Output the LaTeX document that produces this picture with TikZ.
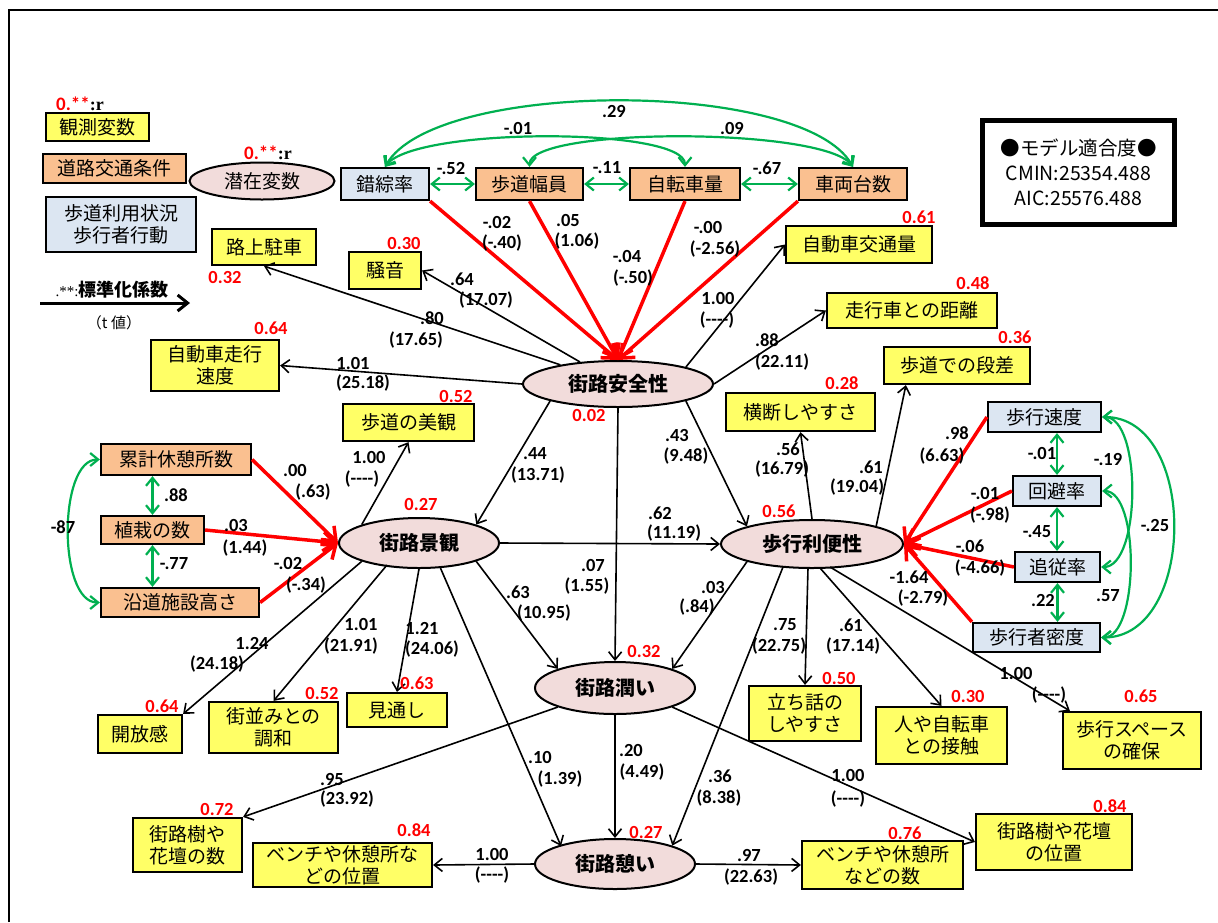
\documentclass[tikz,border=0pt]{standalone}
\usepackage{fontspec}
\setmainfont{Noto Sans CJK JP}
\newfontfamily\jpf{Noto Sans CJK JP}
\newfontfamily\numf{Carlito}
\newfontfamily\serf{Liberation Serif}
\usetikzlibrary{arrows.meta,calc,shapes.geometric}
\definecolor{yel}{HTML}{FFFF66}
\definecolor{org}{HTML}{FAC090}
\definecolor{blu}{HTML}{DCE6F2}
\definecolor{pnk}{HTML}{F2DCDB}
\definecolor{grn}{HTML}{00B050}
\definecolor{rd}{HTML}{FF0000}
\newcommand\bx[7]{\node[#1, minimum width={#4pt-#2pt}, minimum height={#5pt-#3pt}] (#6) at ({(#2+#4)/2},{(#3+#5)/2}) {#7};}
\newcommand\el[7]{\node[#1, minimum width=#5pt, minimum height=#6pt] (#2) at (#3,#4) {#7};}
\newcommand\lb[3]{\node[lab] (#1) at (#2) {#3};}
\newcommand\rv[3]{\node[rlab] (#1) at (#2) {#3};}
\begin{document}
\begin{tikzpicture}[x=1pt,y=-1pt,
 box/.style={draw, line width=2.2pt, inner sep=0pt, align=center, font=\jpf\fontsize{19}{22}\selectfont},
 obs/.style={box, fill=yel},
 road/.style={box, fill=org},
 walk/.style={box, fill=blu},
 lat/.style={ellipse, draw, line width=2pt, fill=pnk, inner sep=0pt, font=\jpf\bfseries\fontsize{20}{22}\selectfont},
 lab/.style={inner sep=0pt, font=\numf\bfseries\fontsize{18.5}{18.5}\selectfont},
 rlab/.style={lab, text=rd},
 arr/.style={line width=1.6pt, -{Straight Barb[length=8pt,width=13pt]}},
 redarr/.style={draw=rd, line width=3.5pt, -{Straight Barb[length=12pt,width=19pt]}},
 garr/.style={draw=grn, line width=2.2pt, {Straight Barb[length=8pt,width=13pt]}-{Straight Barb[length=8pt,width=13pt]}},
]
\fill[white] (0,0) rectangle (1218,922);
\path[use as bounding box] (0,0) rectangle (1218,922);
\draw[line width=2pt] (9,922) -- (9,10) -- (1218,10);

% legend
\node[inner sep=0pt] (lg1) at (80,104) {{\numf\bfseries\fontsize{19}{19}\selectfont\color{rd}0.**}{\serf\bfseries\fontsize{18}{18}\selectfont :r}};
\bx{obs}{46}{113}{149}{141}{lgobs}{観測変数}
\bx{road}{43}{154}{186}{183}{lgroad}{道路交通条件}
\bx{walk}{46}{197}{196}{252}{lgwalk}{歩道利用状況\\歩行者行動}
\node[inner sep=0pt] (lg2) at (268,153) {{\numf\bfseries\fontsize{19}{19}\selectfont\color{rd}0.**}{\serf\bfseries\fontsize{18}{18}\selectfont :r}};
\el{lat, font=\jpf\fontsize{19}{22}\selectfont}{lglat}{262}{181}{145}{37}{潜在変数}
\coordinate (la1) at (40,303);
\coordinate (la2) at (190,303);
\draw[line width=3pt, -{Straight Barb[length=10pt,width=16pt]}] (la1) -- (la2);
\node[inner sep=0pt] (lg3) at (112,290) {{\serf\fontsize{15}{15}\selectfont .**:}{\jpf\bfseries\fontsize{18}{18}\selectfont 標準化係数}};
\node[inner sep=0pt, font=\jpf\fontsize{15}{15}\selectfont] (lg4) at (114,323) {（t 値）};

% fit box
\node[draw, line width=5pt, minimum width=192pt, minimum height=104pt, align=center, inner sep=0pt, font=\jpf\fontsize{19.5}{25}\selectfont] (fit) at (1078.5,172.5) {●モデル適合度●\\CMIN:25354.488\\AIC:25576.488};

% top row
\bx{walk}{341}{168}{429}{200}{sakuso}{錯綜率}
\bx{road}{476}{168}{583}{200}{hodo}{歩道幅員}
\bx{road}{630}{168}{740}{200}{jiten}{自転車量}
\bx{road}{799}{168}{907}{200}{sharyo}{車両台数}

% observed
\bx{obs}{212}{229}{316}{265}{rojo}{路上駐車}
\bx{obs}{349}{252}{421}{289}{souon}{騒音}
\bx{obs}{786}{226}{932}{263}{kotsu}{自動車交通量}
\bx{obs}{827}{293}{997}{328}{kyori}{走行車との距離}
\bx{obs}{884}{347}{1030}{384}{dansa}{歩道での段差}
\bx{obs}{151}{340}{279}{391}{sokudo}{自動車走行\\速度}
\bx{obs}{343}{404}{474}{441}{bikan}{歩道の美観}
\bx{obs}{726}{393}{875}{431}{odan}{横断しやすさ}
\bx{obs}{98}{715}{182}{753}{kaiho}{開放感}
\bx{obs}{209}{702}{338}{753}{machi}{街並みとの\\調和}
\bx{obs}{347}{693}{447}{727}{mitoshi}{見通し}
\bx{obs}{749}{686}{861}{741}{tachi}{立ち話の\\しやすさ}
\bx{obs}{876}{707}{1007}{764}{sesshoku}{人や自転車\\との接触}
\bx{obs}{1063}{712}{1201}{769}{space}{歩行スペース\\の確保}
\bx{obs}{133}{818}{242}{872}{kadanA}{街路樹や\\花壇の数}
\bx{obs}{253}{843}{432}{887}{benchA}{ベンチや休憩所な\\どの位置}
\bx{obs}{802}{841}{963}{889}{benchB}{ベンチや休憩所\\などの数}
\bx{obs}{976}{814}{1132}{870}{kadanB}{街路樹や花壇\\の位置}

% left orange
\bx{road}{101}{444}{251}{475}{ruikei}{累計休憩所数}
\bx{road}{101}{516}{204}{544}{shoku}{植栽の数}
\bx{road}{101}{588}{259}{617}{endo}{沿道施設高さ}

% right blue
\bx{walk}{988}{402}{1101}{432}{hsoku}{歩行速度}
\bx{walk}{1013}{476}{1101}{506}{kaihi}{回避率}
\bx{walk}{1015}{552}{1100}{582}{tsui}{追従率}
\bx{walk}{973}{623}{1100}{652}{mitsu}{歩行者密度}

% latent
\el{lat}{S}{618}{384}{190}{46}{街路安全性}
\el{lat}{L}{419}{543}{160}{50}{街路景観}
\el{lat}{W}{812}{544}{182}{48}{歩行利便性}
\el{lat}{M}{615}{688}{160}{52}{街路潤い}
\el{lat}{R}{615}{864}{160}{50}{街路憩い}

% green correlations
\draw[garr] (sakuso.east) -- (hodo.west);
\draw[garr] (hodo.east) -- (jiten.west);
\draw[garr] (jiten.east) -- (sharyo.west);
\draw[garr] (sakuso.north) .. controls +(50,-88) and +(-50,-88) .. (sharyo.north);
\draw[garr] (sakuso.north) .. controls +(30,-40) and +(0,-40) .. (jiten.north);
\draw[garr] (hodo.north) .. controls +(0,-40) and +(-30,-40) .. (sharyo.north);
\draw[garr] (shoku.north |- ruikei.south) -- (shoku.north);
\draw[garr] (shoku.south) -- (shoku.south |- endo.north);
\draw[garr] (ruikei.west) .. controls +(-42,0) and +(-42,0) .. (endo.west);
\draw[garr] (kaihi.north |- hsoku.south) -- (kaihi.north);
\draw[garr] (kaihi.south) -- (kaihi.south |- tsui.north);
\draw[garr] (tsui.south) -- (tsui.south |- mitsu.north);
\draw[garr] (hsoku.east) .. controls +(40,0) and +(40,0) .. (tsui.east);
\draw[garr] (kaihi.east) .. controls +(38,0) and +(38,0) .. (mitsu.east);
\draw[garr] (hsoku.east) .. controls +(96,0) and +(96,0) .. (mitsu.east);

% red paths
\draw[redarr] (sakuso.south east) -- (S.north);
\draw[redarr] (hodo.south) -- (S.north);
\draw[redarr] (jiten.south) -- (S.north);
\draw[redarr] (sharyo.south west) -- (S.north);
\draw[redarr] (ruikei.east) -- (L.west);
\draw[redarr] (shoku.east) -- (L.west);
\draw[redarr] (endo.east) -- (L.west);
\draw[redarr] (hsoku.west) -- (W.east);
\draw[redarr] (kaihi.west) -- (W.east);
\draw[redarr] (tsui.west) -- (W.east);
\draw[redarr] (mitsu.north west) -- (W.east);

% black paths
\draw[arr] (S) -- (rojo.south);
\draw[arr] (S) -- (souon.east);
\draw[arr] (S.west) -- (sokudo.east);
\draw[arr] (S.north east) -- (kotsu.west);
\draw[arr] (S.east) -- (kyori.west);
\draw[arr] (S.south west) -- (L.north east);
\draw[arr] (S.south east) -- (W.north west);
\draw[arr] (S.south) -- (M.north);
\draw[arr] (L.north west) -- (bikan.south);
\draw[arr] (L.east) -- (W.west);
\draw[arr] (L.south west) -- (kaiho.north east);
\draw[arr] ($(L.center)+(-32,22)$) -- (machi.north);
\draw[arr] (L.south) -- (mitoshi.north);
\draw[arr] ($(L.center)+(21,24)$) -- ($(R.center)+(-54,-18)$);
\draw[arr] (L.south east) -- (M.north west);
\draw[arr] (W.north) -- (odan.south);
\draw[arr] ($(W.center)+(64,-17)$) -- ($(dansa.south west)+(23,0)$);
\draw[arr] (W.south west) -- (M.north east);
\draw[arr] ($(W.center)+(-29,23)$) -- (R.north east);
\draw[arr] ($(W.center)+(-4,24)$) -- (tachi.north);
\draw[arr] ($(W.center)+(8,24)$) -- (sesshoku.north);
\draw[arr] ($(W.center)+(18,23)$) -- ($(space.north west)+(8,0)$);
\draw[arr] (M.south west) -- (kadanA.north east);
\draw[arr] (M.south) -- (R.north);
\draw[arr] (M.south east) -- (kadanB.west);
\draw[arr] (R.west) -- (benchA.east);
\draw[arr] (R.east) -- (benchB.west);

% red values
\rv{v1}{225,277}{0.32}
\rv{v2}{404,243}{0.30}
\rv{v3}{919,217}{0.61}
\rv{v4}{973,283}{0.48}
\rv{v5}{1015,337}{0.36}
\rv{v6}{271,328}{0.64}
\rv{v7}{456,396}{0.52}
\rv{v8}{842,383}{0.28}
\rv{v9}{589,415}{0.02}
\rv{v10}{421,504}{0.27}
\rv{v11}{779,511}{0.56}
\rv{v12}{644,651}{0.32}
\rv{v13}{646,832}{0.27}
\rv{v14}{162,706}{0.64}
\rv{v15}{322,693}{0.52}
\rv{v16}{417,683}{0.63}
\rv{v17}{217,809}{0.72}
\rv{v18}{414,830}{0.84}
\rv{v19}{839,678}{0.50}
\rv{v20}{968,696}{0.30}
\rv{v21}{1141,696}{0.65}
\rv{v22}{905,833}{0.76}
\rv{v23}{1110,806}{0.84}

% coefficient labels
\lb{g1}{614,111}{.29}
\lb{g2}{518,128}{-.01}
\lb{g3}{732,128}{.09}
\lb{g4}{451,168}{-.52}
\lb{g5}{607,168}{-.11}
\lb{g6}{767,168}{-.67}
\lb{g7}{176,495}{.88}
\lb{g8}{174,564}{-.77}
\lb{g9}{63,527}{-87}
\lb{g10}{1042,453}{-.01}
\lb{g11}{1108,459}{-.19}
\lb{g12}{1037,532}{-.45}
\lb{g13}{1155,525}{-.25}
\lb{g14}{1043,600}{.22}
\lb{g15}{1108,596}{.57}

\lb{a1}{497,222}{-.02}\lb{a2}{502,243}{(-.40)}
\lb{a3}{568,220}{.05}\lb{a4}{577,241}{(1.06)}
\lb{a5}{627,256}{-.04}\lb{a6}{633,278}{(-.50)}
\lb{a7}{708,227}{-.00}\lb{a8}{715,249}{(-2.56)}

\lb{b1}{462,279}{.64}\lb{b2}{486,300}{(17.07)}
\lb{b3}{432,318}{.80}\lb{b4}{416,340}{(17.65)}
\lb{b5}{353,363}{1.01}\lb{b6}{363,383}{(25.18)}
\lb{b7}{718,298}{1.00}\lb{b8}{717,320}{(----)}
\lb{b9}{767,340}{.88}\lb{b10}{782,362}{(22.11)}
\lb{b11}{535,454}{.44}\lb{b12}{538,475}{(13.71)}
\lb{b13}{677,435}{.43}\lb{b14}{686,456}{(9.48)}
\lb{b15}{593,565}{.07}\lb{b16}{587,586}{(1.55)}

\lb{c1}{369,457}{1.00}\lb{c2}{362,479}{(----)}
\lb{c3}{660,513}{.62}\lb{c4}{674,533}{(11.19)}
\lb{c5}{252,643}{1.24}\lb{c6}{217,664}{(24.18)}
\lb{c7}{361,624}{1.01}\lb{c8}{351,646}{(21.91)}
\lb{c9}{422,628}{1.21}\lb{c10}{432,649}{(24.06)}
\lb{c11}{518,592}{.63}\lb{c12}{544,613}{(10.95)}
\lb{c13}{540,757}{.10}\lb{c14}{560,779}{(1.39)}
\lb{c15}{295,470}{.00}\lb{c16}{313,492}{(.63)}
\lb{c17}{236,525}{.03}\lb{c18}{245,548}{(1.44)}
\lb{c19}{288,563}{-.02}\lb{c20}{306,585}{(-.34)}

\lb{d1}{788,449}{.56}\lb{d2}{782,469}{(16.79)}
\lb{d3}{871,467}{.61}\lb{d4}{857,487}{(19.04)}
\lb{d5}{713,587}{.03}\lb{d6}{697,607}{(.84)}
\lb{d7}{720,776}{.36}\lb{d8}{719,798}{(8.38)}
\lb{d9}{785,625}{.75}\lb{d10}{779,646}{(22.75)}
\lb{d11}{851,625}{.61}\lb{d12}{853,646}{(17.14)}
\lb{d13}{1016,673}{1.00}\lb{d14}{1049,695}{(----)}
\lb{d15}{957,433}{.98}\lb{d16}{942,456}{(6.63)}
\lb{d17}{985,493}{-.01}\lb{d18}{990,515}{(-.98)}
\lb{d19}{970,546}{-.06}\lb{d20}{980,568}{(-4.66)}
\lb{d21}{909,577}{-1.64}\lb{d22}{923,598}{(-2.79)}

\lb{e1}{332,779}{.95}\lb{e2}{347,799}{(23.92)}
\lb{e3}{631,750}{.20}\lb{e4}{642,772}{(4.49)}
\lb{e5}{848,775}{1.00}\lb{e6}{848,799}{(----)}
\lb{e7}{492,854}{1.00}\lb{e8}{492,875}{(----)}
\lb{e9}{749,855}{.97}\lb{e10}{751,877}{(22.63)}
\end{tikzpicture}
\end{document}
